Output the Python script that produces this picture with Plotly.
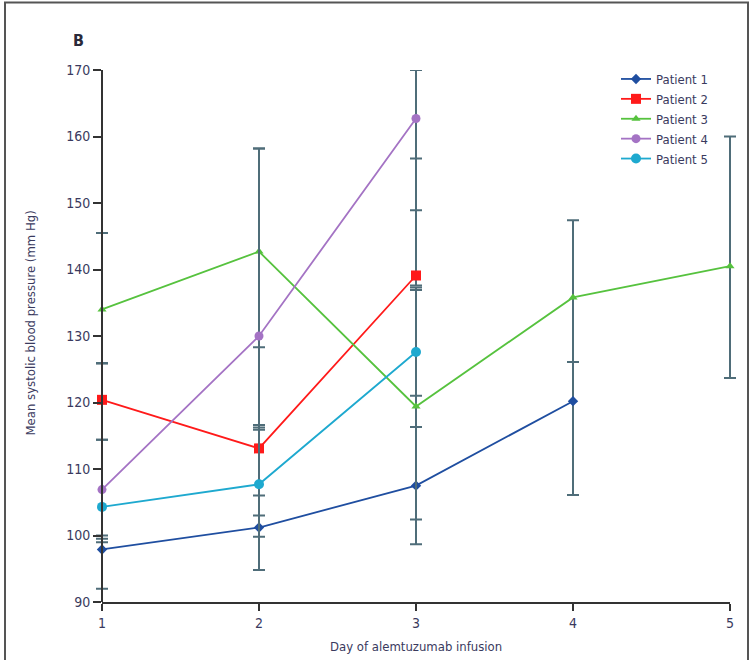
import plotly.graph_objects as go

days = [1, 2, 3, 4, 5]
patients = ["Patient 1", "Patient 2", "Patient 3", "Patient 4", "Patient 5"]

p1 = [97.9, 101.2, 107.5, 120.2]
p2 = [120.4, 113.1, 139.1]
p3 = [134.0, 142.7, 119.4, 135.8, 140.5]
p4 = [106.9, 130.0, 162.7]
p5 = [104.3, 107.7, 127.6]

p1_plus = [1.1, 1.8, 8.8, 5.9]
p1_minus = [5.9, 6.4, 8.8, 14.1]
p2_plus = [5.5, 3.5, 17.6]
p2_minus = [6.0, 7.1, 1.5]
p3_plus = [11.5, 15.5, 17.5, 11.6, 19.5]
p3_minus = [8.1, 14.4, 17.0, 9.7, 16.8]
p4_plus = [19.0, 28.2, 7.3]
p4_minus = [6.9, 14.1, 13.8]
p5_plus = [10.1, 8.55, 9.7]
p5_minus = [4.8, 7.9, 6.6]

values = [p1, p2, p3, p4, p5]
plus = [p1_plus, p2_plus, p3_plus, p4_plus, p5_plus]
minus = [p1_minus, p2_minus, p3_minus, p4_minus, p5_minus]
colors = ["#1f4ea0", "#ff1a1a", "#56c23e", "#a473c4", "#1ea9cf"]
symbols = ["diamond", "square", "triangle-up", "circle", "circle"]
sizes = [8, 10, 8, 9, 10]

err_color = "#4f6d79"
font_family = "DejaVu Sans Condensed, DejaVu Sans, sans-serif"
txt_color = "#3a3a5e"

W, H = 751, 660
# plot area in pixels (a little wider than the 1..5 axis so edge error bars are not clipped)
L, R, T, B = 92, 742, 69.5, 601.5
X1, X5 = 102, 730
ppu = (X5 - X1) / (days[-1] - days[0])
x_lo = days[0] - (X1 - L) / ppu
x_hi = days[-1] + (R - X5) / ppu


def px_x(px):
    return (px - L) / (R - L)


def px_y(py):
    return (B - py) / (B - T)


fig = go.Figure()
for name, v, ep, em, c, s, sz in zip(patients, values, plus, minus, colors, symbols, sizes):
    fig.add_trace(go.Scatter(
        x=days[:len(v)], y=v, name=name, mode="lines+markers",
        line=dict(color=c, width=1.8),
        marker=dict(color=c, symbol=s, size=sz),
        error_y=dict(type="data", symmetric=False, array=ep, arrayminus=em,
                     color=err_color, thickness=2, width=6),
        cliponaxis=False,
    ))

# empty trace so that the visible day axis (x2) is drawn
fig.add_trace(go.Scatter(x=days, y=[None] * len(days), xaxis="x2", yaxis="y",
                         mode="markers", showlegend=False, hoverinfo="skip"))

axis_style = dict(showgrid=False, zeroline=False, showline=True, linecolor="#333333",
                  linewidth=2, ticks="outside", tickwidth=2, tickcolor="#333333",
                  tickfont=dict(size=14, color=txt_color), automargin=False)

fig.update_layout(
    width=W, height=H, autosize=False,
    margin=dict(l=L, r=W - R, t=70, b=58, autoexpand=False),
    paper_bgcolor="white", plot_bgcolor="rgba(0,0,0,0)",
    font=dict(family=font_family, size=13, color=txt_color),
    showlegend=True,
    legend=dict(xref="container", yref="container", x=616 / W, y=1 - 64 / H,
                xanchor="left", yanchor="top",
                bgcolor="rgba(0,0,0,0)", font=dict(size=13, color=txt_color),
                tracegroupgap=0, itemwidth=30),
    xaxis=dict(range=[x_lo, x_hi], visible=False, fixedrange=True, automargin=False),
    xaxis2=dict(range=[days[0], days[-1]], domain=[px_x(X1), px_x(X5)], anchor="y",
                tickvals=days, ticktext=[str(d) for d in days], ticklen=7,
                fixedrange=True, **axis_style),
    yaxis=dict(range=[90, 170], dtick=10, anchor="free", position=px_x(X1),
               ticklen=8, fixedrange=True, **axis_style),
    annotations=[
        dict(text="<b>B</b>", xref="paper", yref="paper", x=px_x(78), y=px_y(40),
             xanchor="center", yanchor="middle", showarrow=False,
             font=dict(size=16, color="#2a2a3a")),
        dict(text="Day of alemtuzumab infusion", xref="paper", yref="paper",
             x=px_x(416), y=px_y(646), xanchor="center", yanchor="middle",
             showarrow=False, font=dict(size=13, color=txt_color)),
        dict(text="Mean systolic blood pressure (mm Hg)", xref="paper", yref="paper",
             x=px_x(30), y=px_y(323), xanchor="center", yanchor="middle",
             textangle=-90, showarrow=False, font=dict(size=13, color=txt_color)),
    ],
    shapes=[dict(type="rect", xref="paper", yref="paper",
                 x0=px_x(5), x1=px_x(748), y0=px_y(670), y1=px_y(2),
                 line=dict(color="#555555", width=2), fillcolor="rgba(0,0,0,0)",
                 layer="below")],
)

fig.write_html("out.html", config={"displayModeBar": False, "responsive": False},
               post_script="document.body.style.margin='0';")
